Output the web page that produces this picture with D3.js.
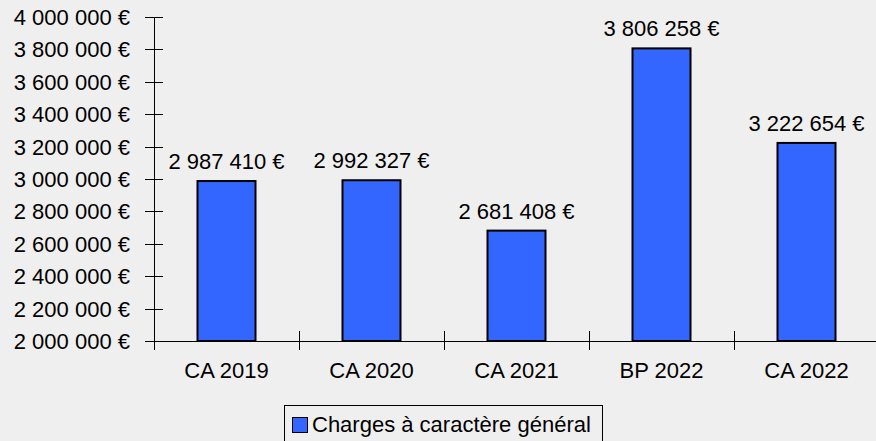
<!DOCTYPE html>
<html><head><meta charset="utf-8">
<script src="https://cdn.jsdelivr.net/npm/d3@7"></script>
<style>body{margin:0;background:#efefef;}svg{display:block;font-family:"Liberation Sans",Arial,sans-serif;}</style>
</head><body><svg id="c" width="876" height="441"></svg>
<script>
const categories = ["CA 2019","CA 2020","CA 2021","BP 2022","CA 2022"];
const values = [2987410, 2992327, 2681408, 3806258, 3222654];
const yTicks = [2000000,2200000,2400000,2600000,2800000,3000000,3200000,3400000,3600000,3800000,4000000];
const seriesName = "Charges à caractère général";

(function(){
const svg = d3.select("#c");
svg.append("rect").attr("width",876).attr("height",441).attr("fill","#efefef");
const mL = 154, mR = 879, mT = 17, mB = 341;
const FS = 22;
const x = d3.scaleBand().domain(categories).range([mL,mR]);
const y = d3.scaleLinear().domain([2000000,4000000]).range([mB,mT]);
const fmt = v => d3.format(",")(v).replace(/,/g," ") + " €";

// y axis
const ya = svg.append("g");
ya.append("line").attr("x1",mL+0.5).attr("x2",mL+0.5).attr("y1",y(4000000)).attr("y2",mB).attr("stroke","#000").attr("stroke-width",1);
yTicks.forEach(t=>{
  ya.append("line").attr("x1",mL-9).attr("x2",mL+9).attr("y1",Math.round(y(t))+0.5).attr("y2",Math.round(y(t))+0.5).attr("stroke","#000");
  ya.append("text").attr("x",mL-24).attr("y",y(t)).attr("dy","0.36em").attr("text-anchor","end").attr("font-size",FS).attr("fill","#000").text(fmt(t));
});
// x axis
const xa = svg.append("g");
xa.append("line").attr("x1",mL).attr("x2",mR).attr("y1",mB+0.5).attr("y2",mB+0.5).attr("stroke","#000");
categories.forEach((c,i)=>{
  const bx = Math.round(x(c))+0.5;
  xa.append("line").attr("x1",bx).attr("x2",bx).attr("y1",mB-10).attr("y2",mB+9).attr("stroke","#000");
  xa.append("text").attr("x",x(c)+x.bandwidth()/2).attr("y",378).attr("text-anchor","middle").attr("font-size",FS).attr("fill","#000").text(c);
});
// bars
const bw = x.bandwidth()*0.4;
categories.forEach((c,i)=>{
  const cx = x(c)+x.bandwidth()/2;
  svg.append("rect").attr("x",cx-bw/2).attr("y",y(values[i])).attr("width",bw).attr("height",mB-y(values[i]))
    .attr("fill","#3366ff").attr("stroke","#000").attr("stroke-width",2);
  svg.append("text").attr("x",cx).attr("y",y(values[i])-12).attr("text-anchor","middle").attr("font-size",FS).attr("fill","#000").text(fmt(values[i]));
});
// legend
const lg = svg.append("g");
lg.append("rect").attr("x",284.5).attr("y",405.5).attr("width",318).attr("height",40).attr("fill","none").attr("stroke","#000");
lg.append("rect").attr("x",292.5).attr("y",417.5).attr("width",15).attr("height",15).attr("fill","#3366ff").attr("stroke","#000");
lg.append("text").attr("x",312).attr("y",432).attr("font-size",FS).attr("fill","#000").text(seriesName);
})();
</script></body></html>
